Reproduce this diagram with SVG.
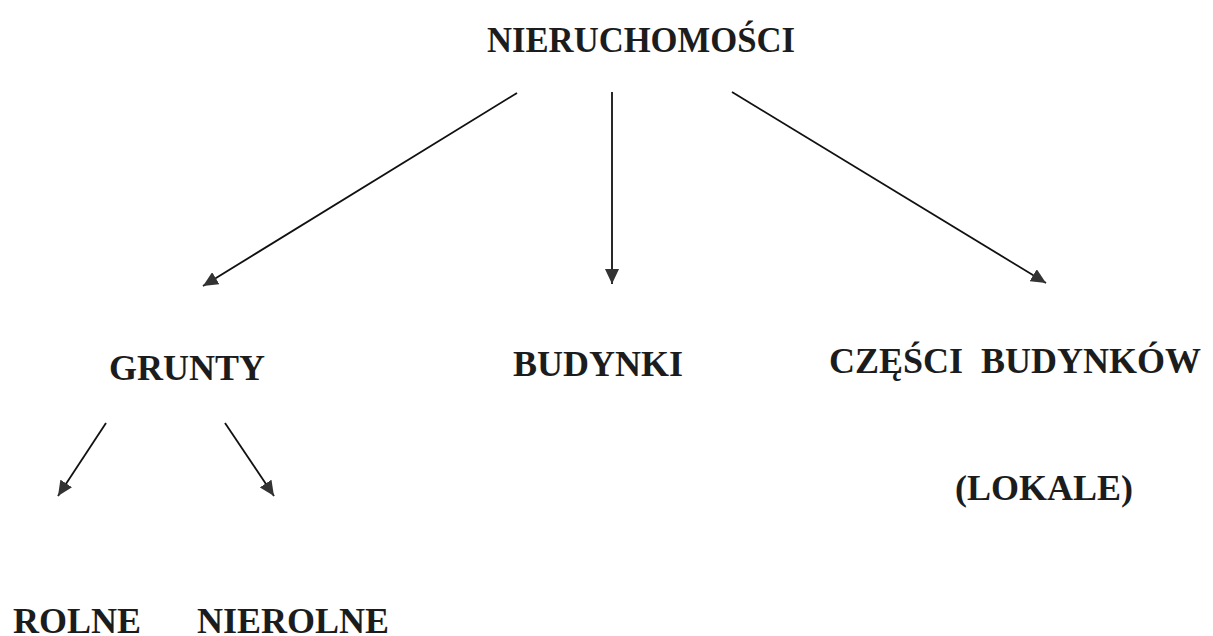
<svg xmlns="http://www.w3.org/2000/svg" width="1213" height="636" viewBox="0 0 1213 636">
<style>
.t{font-family:"Liberation Serif","Times New Roman",serif;font-weight:bold;font-size:36px;fill:#1c1c1c}
.c{stroke:#111;stroke-width:1.8;fill:none;marker-end:url(#ah)}
</style>
<defs>
<marker id="ah" markerUnits="userSpaceOnUse" markerWidth="16" markerHeight="14" refX="15" refY="7" orient="auto">
<path d="M0,0 L15,7 L0,14 z" fill="#333"/>
</marker>
</defs>
<rect width="1213" height="636" fill="#fff"/>
<g id="connectors">
<line class="c" x1="517" y1="93" x2="203" y2="286"/>
<line class="c" x1="612" y1="92" x2="612" y2="284"/>
<line class="c" x1="732" y1="92" x2="1046" y2="283"/>
<line class="c" x1="106" y1="423" x2="58" y2="496"/>
<line class="c" x1="225" y1="423" x2="274" y2="496"/>
</g>
<g id="n-nieruchomosci"><text class="t" x="487" y="52" textLength="308" lengthAdjust="spacingAndGlyphs">NIERUCHOMOŚCI</text></g>
<g id="n-grunty"><text class="t" x="187" y="380" text-anchor="middle">GRUNTY</text></g>
<g id="n-budynki"><text class="t" x="598" y="376" text-anchor="middle">BUDYNKI</text></g>
<g id="n-czesci"><text class="t" x="829" y="373" xml:space="preserve">CZĘŚCI  BUDYNKÓW</text></g>
<g id="n-lokale"><text class="t" x="1044" y="500" text-anchor="middle">(LOKALE)</text></g>
<g id="n-rolne"><text class="t" x="13" y="633">ROLNE</text></g>
<g id="n-nierolne"><text class="t" x="197" y="633">NIEROLNE</text></g>
</svg>
